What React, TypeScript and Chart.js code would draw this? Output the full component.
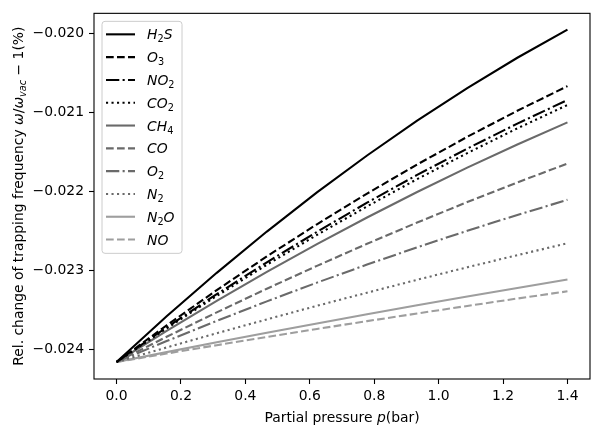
import React, { useEffect, useRef } from "react";
import { Chart, registerables } from "chart.js";

Chart.register(...registerables);

// ---------------- data ----------------
const pressure = [0, 0.1556, 0.3111, 0.4667, 0.6222, 0.7778, 0.9333, 1.0889, 1.2444, 1.4];

const h2s = [-0.02416, -0.023582, -0.023032, -0.02251, -0.022015, -0.021548, -0.021108, -0.020696, -0.020312, -0.019955];
const o3 = [-0.02416, -0.023696, -0.023251, -0.022824, -0.022418, -0.02203, -0.021662, -0.021312, -0.020982, -0.020671];
const no2 = [-0.02416, -0.023722, -0.023302, -0.022899, -0.022514, -0.022145, -0.021794, -0.021461, -0.021145, -0.020846];
const co2 = [-0.02416, -0.023734, -0.023324, -0.02293, -0.022553, -0.022192, -0.021847, -0.021518, -0.021205, -0.020909];
const ch4 = [-0.02416, -0.023766, -0.023386, -0.02302, -0.022669, -0.022332, -0.02201, -0.021702, -0.021408, -0.021129];
const co = [-0.02416, -0.023841, -0.023532, -0.023233, -0.022944, -0.022665, -0.022396, -0.022137, -0.021889, -0.02165];
const o2 = [-0.02416, -0.023895, -0.02364, -0.023393, -0.023156, -0.022928, -0.02271, -0.0225, -0.0223, -0.022109];
const n2 = [-0.02416, -0.023976, -0.023796, -0.023621, -0.023449, -0.023283, -0.02312, -0.022962, -0.022808, -0.022659];
const n2o = [-0.02416, -0.024035, -0.023911, -0.023791, -0.023672, -0.023556, -0.023443, -0.023331, -0.023223, -0.023116];
const no = [-0.02416, -0.024053, -0.023947, -0.023844, -0.023742, -0.023643, -0.023546, -0.023451, -0.023357, -0.023266];

const seriesNames = ["H2S", "O3", "NO2", "CO2", "CH4", "CO", "O2", "N2", "N2O", "NO"];
const seriesValues = [h2s, o3, no2, co2, ch4, co, o2, n2, n2o, no];

const xTickValues = [0, 0.2, 0.4, 0.6, 0.8, 1.0, 1.2, 1.4];
const xTickLabels = ["0.0", "0.2", "0.4", "0.6", "0.8", "1.0", "1.2", "1.4"];
const yTickValues = [-0.024, -0.023, -0.022, -0.021, -0.02];
const yTickLabels = ["\u22120.024", "\u22120.023", "\u22120.022", "\u22120.021", "\u22120.020"];

// ---------------- styles ----------------
const BLACK = "#000000";
const GRAY = "#6a6a6a";
const LIGHT = "#9e9e9e";
const DASHED = [7.7, 3.3];
const DASHDOT = [13.3, 3.3, 2.1, 3.3];
const DOTTED = [2.1, 3.4];
const seriesStyles = [
  { color: BLACK, dash: [] as number[] },
  { color: BLACK, dash: DASHED },
  { color: BLACK, dash: DASHDOT },
  { color: BLACK, dash: DOTTED },
  { color: GRAY, dash: [] as number[] },
  { color: GRAY, dash: DASHED },
  { color: GRAY, dash: DASHDOT },
  { color: GRAY, dash: DOTTED },
  { color: LIGHT, dash: [] as number[] },
  { color: LIGHT, dash: DASHED },
];

const FONT = "'DejaVu Sans', 'Liberation Sans', sans-serif";
const FS = 13.9;

type Part = { t: string; font: string; dy: number };

function drawParts(ctx: CanvasRenderingContext2D, parts: Part[], x: number, y: number) {
  let cx = x;
  for (const p of parts) {
    ctx.font = p.font;
    ctx.fillText(p.t, cx, y + p.dy);
    cx += ctx.measureText(p.t).width;
  }
  return cx - x;
}

function measureParts(ctx: CanvasRenderingContext2D, parts: Part[]) {
  let w = 0;
  for (const p of parts) {
    ctx.font = p.font;
    w += ctx.measureText(p.t).width;
  }
  return w;
}

function chemParts(name: string): Part[] {
  const parts: Part[] = [];
  for (const ch of name) {
    if (/[0-9]/.test(ch)) parts.push({ t: ch, font: `${FS * 0.7}px ${FONT}`, dy: 3 });
    else parts.push({ t: ch, font: `italic ${FS}px ${FONT}`, dy: 0 });
  }
  return parts;
}

const decorPlugin = {
  id: "decor",
  afterDraw(chart: any) {
    const ctx: CanvasRenderingContext2D = chart.ctx;
    const a = chart.chartArea;
    ctx.save();
    // frame
    ctx.setLineDash([]);
    ctx.strokeStyle = "#000";
    ctx.lineWidth = 1.1;
    ctx.strokeRect(a.left, a.top, a.right - a.left, a.bottom - a.top);

    // legend
    const bx = a.left + 8;
    const by = a.top + 8;
    const bw = 80;
    const rowH = 22.8;
    const bh = 232;
    ctx.beginPath();
    (ctx as any).roundRect(bx, by, bw, bh, 3);
    ctx.fillStyle = "rgba(255,255,255,0.8)";
    ctx.fill();
    ctx.strokeStyle = "#cccccc";
    ctx.lineWidth = 1;
    ctx.stroke();

    ctx.fillStyle = "#000";
    ctx.textBaseline = "alphabetic";
    ctx.textAlign = "left";
    seriesNames.forEach((name, i) => {
      const cy = by + 13 + i * rowH;
      const st = seriesStyles[i];
      ctx.beginPath();
      ctx.strokeStyle = st.color;
      ctx.lineWidth = 2.1;
      ctx.setLineDash(st.dash);
      ctx.moveTo(bx + 4, cy);
      ctx.lineTo(bx + 33, cy);
      ctx.stroke();
      ctx.setLineDash([]);
      ctx.fillStyle = "#000";
      drawParts(ctx, chemParts(name), bx + 45, cy + 5);
    });

    // x title
    const xParts: Part[] = [
      { t: "Partial pressure ", font: `${FS}px ${FONT}`, dy: 0 },
      { t: "p", font: `italic ${FS}px ${FONT}`, dy: 0 },
      { t: "(bar)", font: `${FS}px ${FONT}`, dy: 0 },
    ];
    const xw = measureParts(ctx, xParts);
    drawParts(ctx, xParts, (a.left + a.right) / 2 - xw / 2, 422);

    // y title
    const yParts: Part[] = [
      { t: "Rel. change of trapping frequency ", font: `${FS}px ${FONT}`, dy: 0 },
      { t: "\u03c9", font: `italic ${FS}px ${FONT}`, dy: 0 },
      { t: "/", font: `${FS}px ${FONT}`, dy: 0 },
      { t: "\u03c9", font: `italic ${FS}px ${FONT}`, dy: 0 },
      { t: "vac", font: `italic ${FS * 0.7}px ${FONT}`, dy: 3 },
      { t: " \u2212 1", font: `${FS}px ${FONT}`, dy: 0 },
      { t: "(%)", font: `${FS}px ${FONT}`, dy: 0 },
    ];
    const yw = measureParts(ctx, yParts);
    ctx.translate(23, (a.top + a.bottom) / 2);
    ctx.rotate(-Math.PI / 2);
    drawParts(ctx, yParts, -yw / 2, 0);
    ctx.restore();
  },
};

export default function App() {
  const ref = useRef<HTMLCanvasElement | null>(null);
  useEffect(() => {
    if (!ref.current) return;
    const datasets = seriesNames.map((name, i) => ({
      label: name,
      data: pressure.map((p, j) => ({ x: p, y: seriesValues[i][j] })),
      borderColor: seriesStyles[i].color,
      backgroundColor: seriesStyles[i].color,
      borderDash: seriesStyles[i].dash,
      borderWidth: 2.1,
      pointRadius: 0,
      tension: 0,
      fill: false,
    }));
    const chart = new Chart(ref.current, {
      type: "line",
      data: { datasets },
      plugins: [decorPlugin],
      options: {
        animation: false,
        responsive: false,
        devicePixelRatio: 1,
        layout: { padding: { left: 0, top: 9, right: 10, bottom: 0 } },
        plugins: { legend: { display: false }, tooltip: { enabled: false }, title: { display: false } },
        scales: {
          x: {
            type: "linear",
            min: -0.07,
            max: 1.47,
            afterBuildTicks: (axis: any) => {
              axis.ticks = xTickValues.map((v) => ({ value: v }));
            },
            afterFit: (axis: any) => {
              axis.height = 57;
            },
            border: { display: false },
            grid: { drawOnChartArea: false, drawTicks: true, tickLength: 5, tickColor: "#000", tickWidth: 1.1 },
            ticks: {
              color: "#000",
              padding: 4,
              maxRotation: 0,
              autoSkip: false,
              font: { family: FONT, size: FS },
              callback: (v: any) => {
                const i = xTickValues.findIndex((t) => Math.abs(t - Number(v)) < 1e-9);
                return i >= 0 ? xTickLabels[i] : "";
              },
            },
          },
          y: {
            type: "linear",
            min: -0.024375,
            max: -0.01975,
            afterBuildTicks: (axis: any) => {
              axis.ticks = yTickValues.map((v) => ({ value: v }));
            },
            afterFit: (axis: any) => {
              axis.width = 94;
            },
            border: { display: false },
            grid: { drawOnChartArea: false, drawTicks: true, tickLength: 5, tickColor: "#000", tickWidth: 1.1 },
            ticks: {
              color: "#000",
              padding: 5,
              autoSkip: false,
              font: { family: FONT, size: FS },
              callback: (v: any) => {
                const i = yTickValues.findIndex((t) => Math.abs(t - Number(v)) < 1e-9);
                return i >= 0 ? yTickLabels[i] : "";
              },
            },
          },
        },
      },
    });
    return () => chart.destroy();
  }, []);
  return (
    <div style={{ position: "absolute", left: 0, top: 0, width: 600, height: 436, background: "#fff" }}>
      <canvas ref={ref} width={600} height={436} style={{ width: 600, height: 436 }} />
    </div>
  );
}
